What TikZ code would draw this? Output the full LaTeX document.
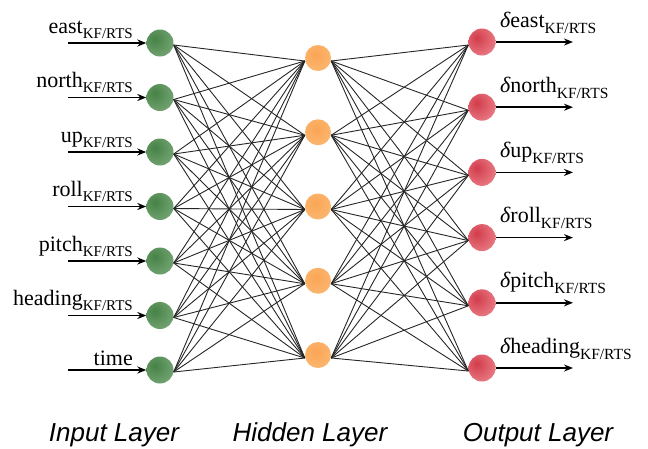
\documentclass[tikz,border=0pt]{standalone}
\usepackage{fontspec}
\setmainfont{Liberation Serif}
\newfontfamily\layerfont{Liberation Sans}
\usetikzlibrary{arrows.meta}
\definecolor{gA}{RGB}{70,130,70}
\definecolor{gB}{RGB}{110,160,110}
\definecolor{gC}{RGB}{228,238,228}
\definecolor{rA}{RGB}{210,60,75}
\definecolor{rB}{RGB}{230,115,125}
\definecolor{rC}{RGB}{250,210,210}
\definecolor{oA}{RGB}{250,165,85}
\definecolor{oB}{RGB}{252,185,115}
\definecolor{oC}{RGB}{255,235,210}
\pgfdeclareradialshading{gball}{\pgfpoint{-10bp}{8bp}}{color(0bp)=(gA); color(30bp)=(gB); color(68bp)=(gC); color(100bp)=(gC)}
\pgfdeclareradialshading{rball}{\pgfpoint{-10bp}{8bp}}{color(0bp)=(rA); color(30bp)=(rB); color(68bp)=(rC); color(100bp)=(rC)}
\pgfdeclareradialshading{oball}{\pgfpoint{-4bp}{6bp}}{color(0bp)=(oA); color(35bp)=(oB); color(62bp)=(oC); color(100bp)=(oC)}
\newcommand{\inlab}[1]{\fontsize{22}{22}\selectfont #1\raisebox{-5pt}{\fontsize{15}{15}\selectfont KF/RTS}}
\newcommand{\outlab}[1]{\fontsize{22}{22}\selectfont{\itshape δ}#1\raisebox{-6pt}{\fontsize{15.5}{15.5}\selectfont KF/RTS}}
\tikzset{
  neuron/.style={circle, minimum size=27pt, inner sep=0pt},
  inneuron/.style={neuron, shading=gball},
  hidneuron/.style={neuron, shading=oball, minimum size=26pt},
  outneuron/.style={neuron, shading=rball},
  conn/.style={line width=0.9pt, black!85},
  ioarrow/.style={line width=1.7pt, -{Stealth[length=9pt,width=7pt]}},
  lab/.style={inner sep=0pt},
  layerlab/.style={inner sep=0pt, anchor=base, font=\layerfont\itshape\fontsize{26}{26}\selectfont}
}
\begin{document}
\begin{tikzpicture}[x=1pt,y=-1pt]
\useasboundingbox (0,0) rectangle (648,448);
% input layer
\foreach \i/\yy in {1/43,2/97.5,3/152,4/206.5,5/261,6/315.5,7/370}{
  \node[inneuron] (i\i) at (160,\yy) {};
  \coordinate (s\i) at (68,\yy);
}
% hidden layer
\foreach \j/\yy in {1/58,2/132.25,3/206.5,4/280.75,5/355}{
  \node[hidneuron] (h\j) at (318,\yy) {};
}
% output layer
\foreach \k/\yy in {1/42,2/107.2,3/172.4,4/237.6,5/302.8,6/368}{
  \node[outneuron] (o\k) at (482,\yy) {};
  \coordinate (e\k) at (573,\yy);
}
% connections
\foreach \i in {1,...,7}{
  \foreach \j in {1,...,5}{
    \draw[conn] ([yshift=-2pt]i\i.east) -- ([yshift=-3pt]h\j.west);
  }
}
\foreach \j in {1,...,5}{
  \foreach \k in {1,...,6}{
    \draw[conn] ([yshift=-3pt]h\j.east) -- ([yshift=-3pt]o\k.west);
  }
}
% input arrows
\foreach \i in {1,...,7}{
  \draw[ioarrow] (s\i) -- (i\i.west);
}
% output arrows
\foreach \k in {1,...,6}{
  \draw[ioarrow] (o\k.east) -- (e\k);
}
% input labels
\node[lab, anchor=base east] (l1) at (133,33) {\inlab{east}};
\node[lab, anchor=base east] (l2) at (133,87.5) {\inlab{north}};
\node[lab, anchor=base east] (l3) at (133,142) {\inlab{up}};
\node[lab, anchor=base east] (l4) at (133,196.5) {\inlab{roll}};
\node[lab, anchor=base east] (l5) at (133,251) {\inlab{pitch}};
\node[lab, anchor=base east] (l6) at (133,305.5) {\inlab{heading}};
\node[lab, anchor=base east] (l7) at (133,365) {\fontsize{22}{22}\selectfont time};
% output labels
\node[lab, anchor=base west] (m1) at (500,27) {\outlab{east}};
\node[lab, anchor=base west] (m2) at (500,92.2) {\outlab{north}};
\node[lab, anchor=base west] (m3) at (500,157.4) {\outlab{up}};
\node[lab, anchor=base west] (m4) at (500,222.6) {\outlab{roll}};
\node[lab, anchor=base west] (m5) at (500,287.8) {\outlab{pitch}};
\node[lab, anchor=base west] (m6) at (500,353) {\outlab{heading}};
% layer labels
\node[layerlab] (L1) at (114,441) {Input Layer};
\node[layerlab] (L2) at (310,441) {Hidden Layer};
\node[layerlab] (L3) at (538,441) {Output Layer};
\end{tikzpicture}
\end{document}
